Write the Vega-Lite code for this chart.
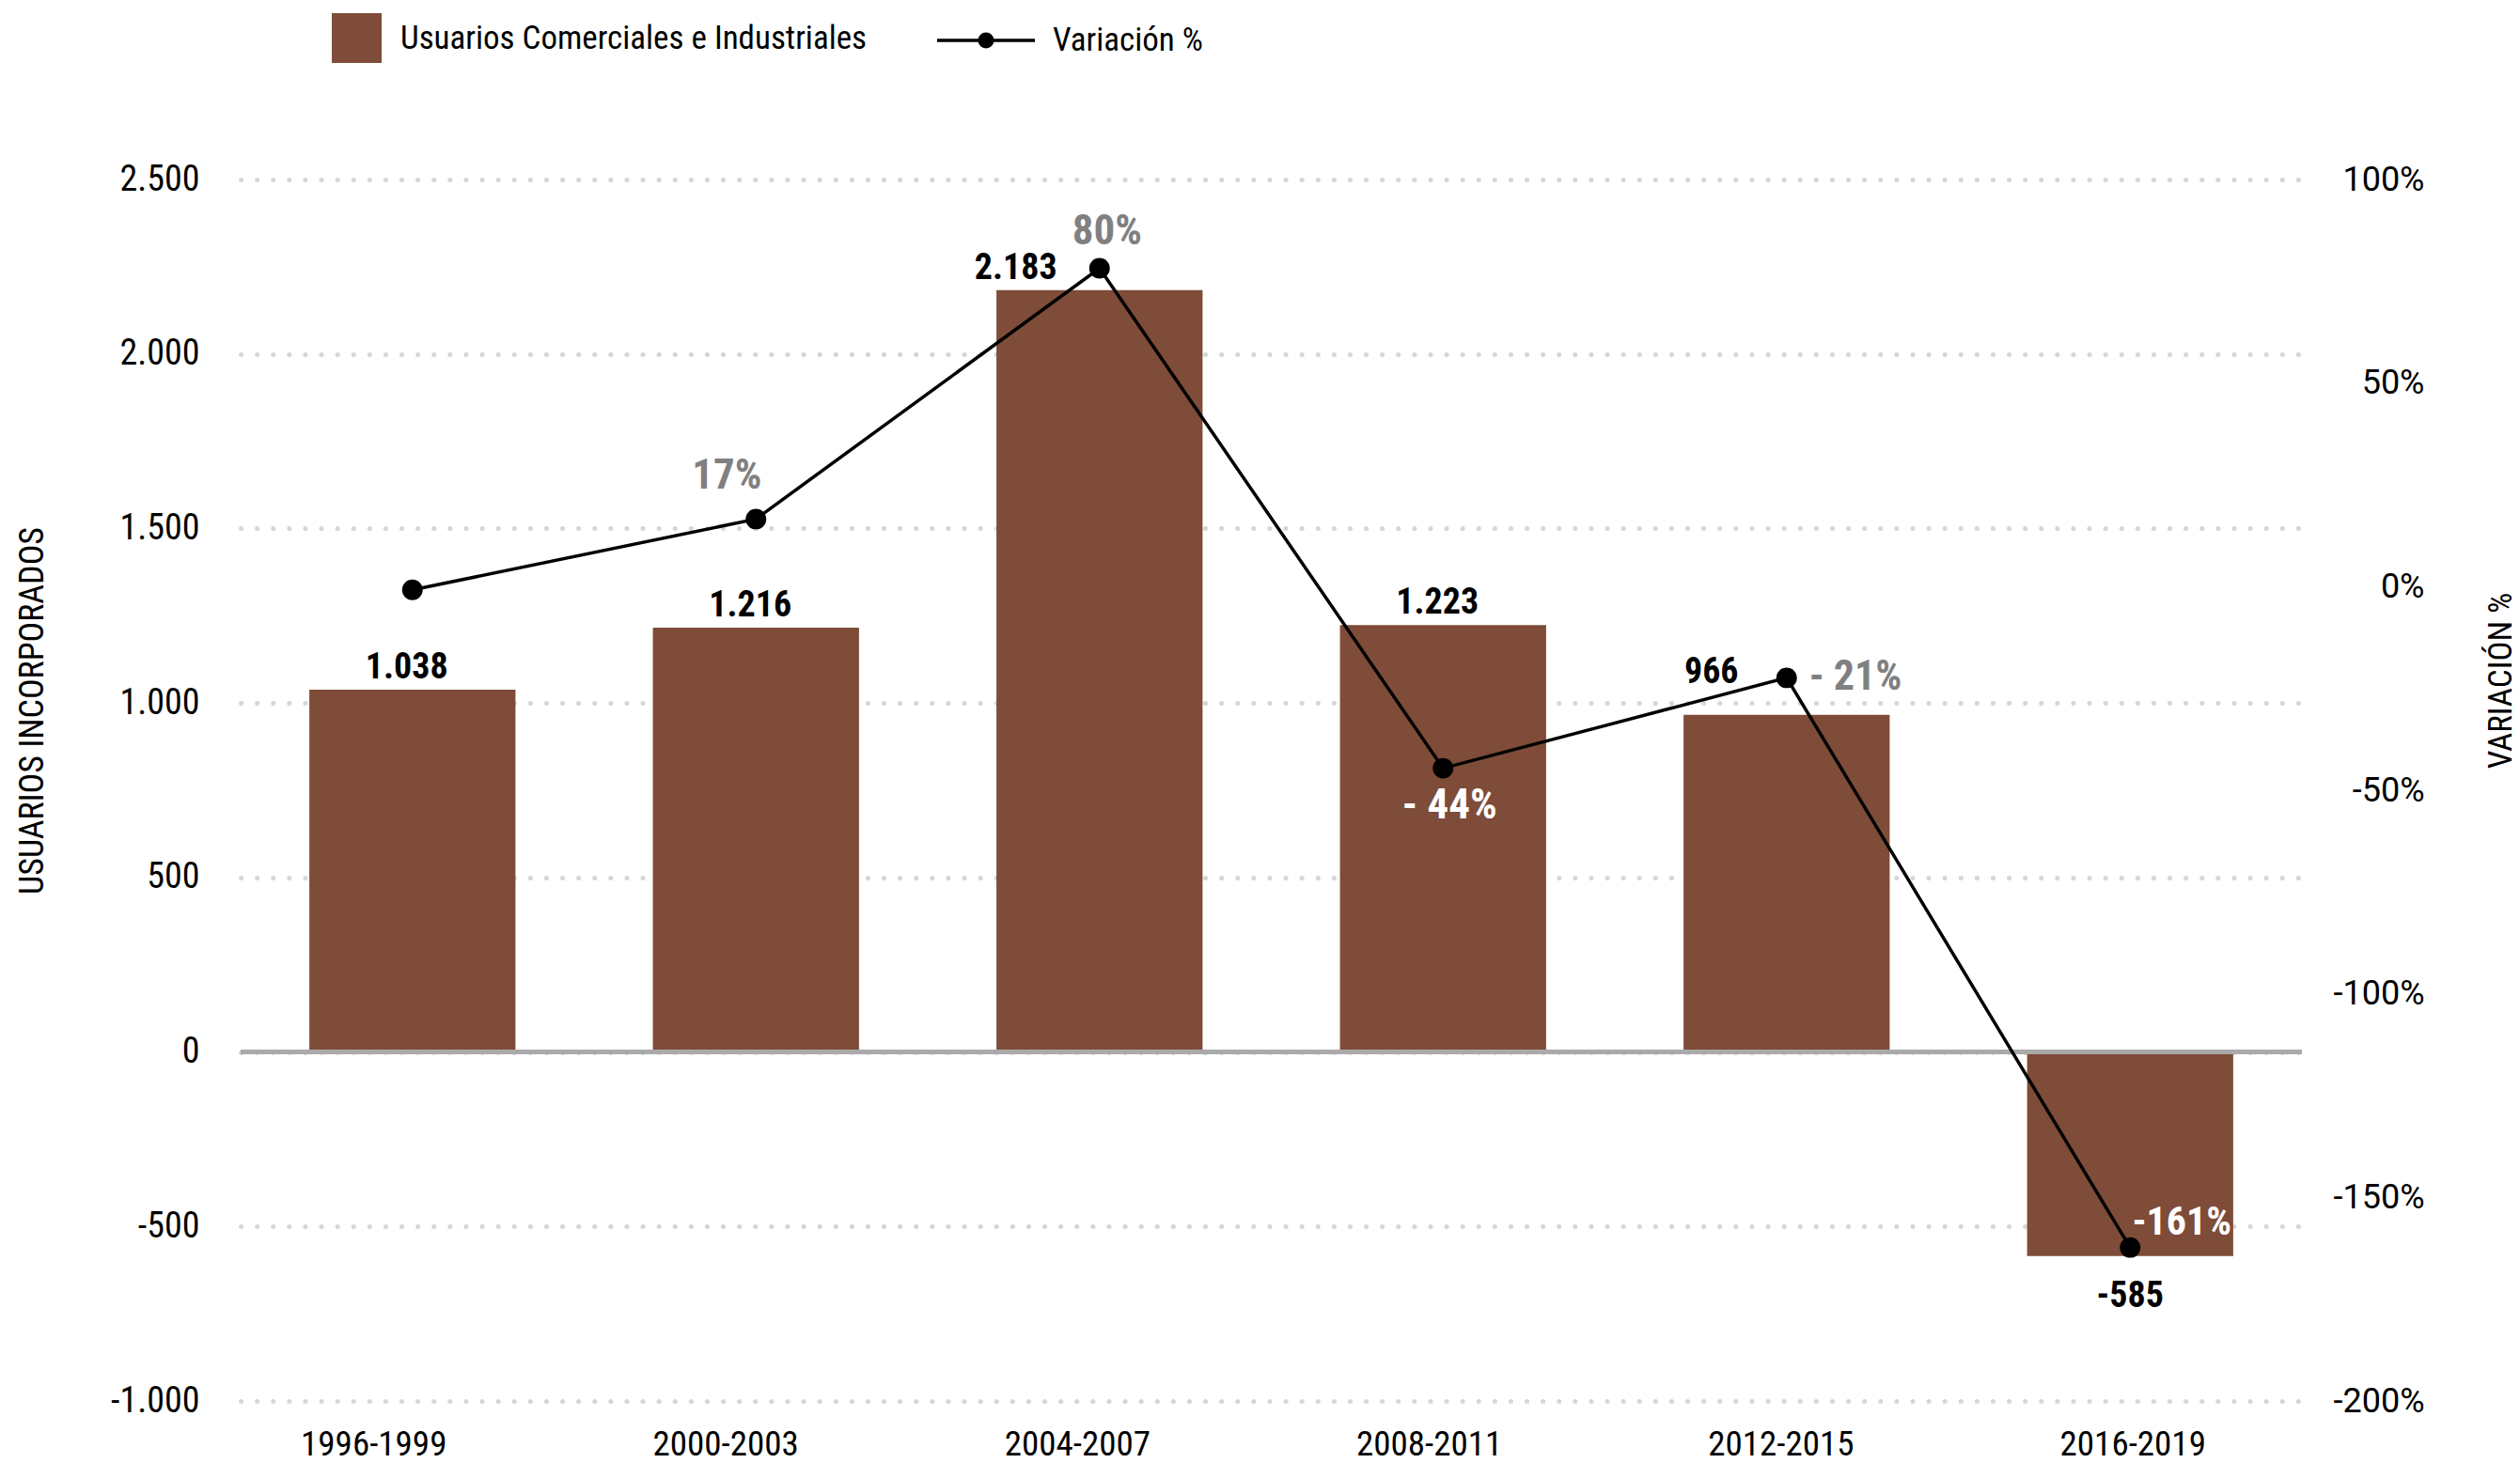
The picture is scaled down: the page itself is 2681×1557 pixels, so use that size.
{
  "$schema": "https://vega.github.io/schema/vega-lite/v6.json",
  "width": 2193,
  "height": 1300,
  "autosize": "none",
  "padding": {"left": 256, "top": 191, "right": 232, "bottom": 66},
  "background": "white",
  "config": {
    "view": {"stroke": null},
    "font": "Roboto Condensed, Liberation Sans Narrow, Arial Narrow, DejaVu Sans Condensed, sans-serif",
    "scale": {"bandPaddingInner": 0.4, "bandPaddingOuter": 0.2},
    "axisX": {
      "domain": false, "ticks": false, "grid": false, "title": null, "labelAngle": 0,
      "labelFontSize": 37, "labelColor": "#000000", "labelBaseline": "middle", "labelPadding": 46,
      "labelFont": "Roboto Condensed, Liberation Sans Narrow, Arial Narrow, DejaVu Sans Condensed, sans-serif"
    }
  },
  "data": {"values": [
    {"periodo": "1996-1999", "usuarios": 1038, "variacion": -0.8, "lab_u": "1.038", "lab_v": ""},
    {"periodo": "2000-2003", "usuarios": 1216, "variacion": 16.6, "lab_u": "1.216", "lab_v": "17%"},
    {"periodo": "2004-2007", "usuarios": 2183, "variacion": 78.2, "lab_u": "2.183", "lab_v": "80%"},
    {"periodo": "2008-2011", "usuarios": 1223, "variacion": -44.6, "lab_u": "1.223", "lab_v": "- 44%"},
    {"periodo": "2012-2015", "usuarios": 966, "variacion": -22.4, "lab_u": "966", "lab_v": "- 21%"},
    {"periodo": "2016-2019", "usuarios": -585, "variacion": -162.3, "lab_u": "-585", "lab_v": "-161%"}
  ]},
  "layer": [
    {
      "layer": [
        {
          "mark": {"type": "bar"},
          "encoding": {
            "x": {
              "field": "periodo", "type": "nominal", "sort": null,
              "axis": {
                "encoding": {"labels": {"dx": {"value": {"expr": "-41 + 44 * datum.index"}}}}
              }
            },
            "y": {
              "field": "usuarios", "type": "quantitative",
              "scale": {"domain": [-1000, 2500], "nice": false, "zero": false},
              "axis": {
                "orient": "left",
                "values": [-1000, -500, 0, 500, 1000, 1500, 2000, 2500],
                "labelExpr": "(datum.value < 0 ? '-' : '') + replace(format(abs(datum.value), ','), ',', '.')",
                "domain": false, "ticks": false,
                "grid": true, "gridColor": "#d6d6d6", "gridDash": [0.1, 17], "gridCap": "round", "gridWidth": 5,
                "labelFontSize": 38, "labelColor": "#000000", "labelPadding": 44,
                "title": "USUARIOS INCORPORADOS", "titleFontSize": 36, "titleFontWeight": "normal", "titleColor": "#000000",
                "titleAngle": 270, "titleX": -222, "titleY": 565, "titleAlign": "center", "titleBaseline": "middle"
              }
            },
            "fill": {
              "datum": "Usuarios Comerciales e Industriales",
              "scale": {"range": ["#7e4c38"]},
              "legend": {
                "orient": "none", "legendX": 97, "legendY": -177, "title": null, "padding": 0,
                "symbolType": "square", "symbolSize": 2809, "symbolStrokeWidth": 0,
                "labelFontSize": 35, "labelColor": "#000000", "labelOffset": 20, "labelLimit": 0
              }
            }
          }
        },
        {
          "mark": {"type": "rule", "color": "#aaaaaa", "strokeWidth": 5},
          "encoding": {"y": {"datum": 0, "type": "quantitative"}}
        },
        {
          "transform": [{"filter": {"field": "periodo", "oneOf": ["1996-1999", "2000-2003", "2008-2011"]}}],
          "mark": {"type": "text", "fontWeight": "bold", "fontSize": 38, "color": "#000000", "baseline": "middle", "dx": -6, "dy": -23},
          "encoding": {
            "x": {"field": "periodo", "type": "nominal", "sort": null},
            "y": {"field": "usuarios", "type": "quantitative"},
            "text": {"field": "lab_u"}
          }
        },
        {
          "transform": [{"filter": {"field": "periodo", "equal": "2004-2007"}}],
          "mark": {"type": "text", "fontWeight": "bold", "fontSize": 38, "color": "#000000", "baseline": "middle", "dx": -89, "dy": -23},
          "encoding": {
            "x": {"field": "periodo", "type": "nominal", "sort": null},
            "y": {"field": "usuarios", "type": "quantitative"},
            "text": {"field": "lab_u"}
          }
        },
        {
          "transform": [{"filter": {"field": "periodo", "equal": "2012-2015"}}],
          "mark": {"type": "text", "fontWeight": "bold", "fontSize": 38, "color": "#000000", "baseline": "middle", "dx": -80, "dy": -45},
          "encoding": {
            "x": {"field": "periodo", "type": "nominal", "sort": null},
            "y": {"field": "usuarios", "type": "quantitative"},
            "text": {"field": "lab_u"}
          }
        },
        {
          "transform": [{"filter": {"field": "periodo", "equal": "2016-2019"}}],
          "mark": {"type": "text", "fontWeight": "bold", "fontSize": 38, "color": "#000000", "baseline": "middle", "dy": 43},
          "encoding": {
            "x": {"field": "periodo", "type": "nominal", "sort": null},
            "y": {"field": "usuarios", "type": "quantitative"},
            "text": {"field": "lab_u"}
          }
        }
      ]
    },
    {
      "layer": [
        {
          "mark": {"type": "line", "strokeWidth": 3.5},
          "encoding": {
            "x": {"field": "periodo", "type": "nominal", "sort": null},
            "y": {
              "field": "variacion", "type": "quantitative",
              "scale": {"domain": [-200, 100], "nice": false, "zero": false},
              "axis": {
                "orient": "right",
                "values": [-200, -150, -100, -50, 0, 50, 100],
                "labelExpr": "datum.value + '%'",
                "domain": false, "ticks": false, "grid": false,
                "labelFont": "Roboto", "labelFontSize": 36, "labelColor": "#000000",
                "labelAlign": "right", "labelPadding": 130,
                "title": "VARIACIÓN %", "titleFontSize": 35, "titleFontWeight": "normal", "titleColor": "#000000",
                "titleAngle": 270, "titleX": 211, "titleY": 533, "titleAlign": "center", "titleBaseline": "middle"
              }
            },
            "stroke": {
              "datum": "Variación %",
              "scale": {"range": ["#000000"]},
              "legend": {
                "orient": "none", "legendX": 739, "legendY": -202, "title": null, "padding": 0,
                "symbolType": "M-1,0L1,0M0.13,0A0.13,0.13,0,1,1,-0.13,0A0.13,0.13,0,1,1,0.13,0Z",
                "symbolSize": 10816, "symbolStrokeWidth": 3.5, "symbolFillColor": "#000000", "symbolStrokeColor": "#000000",
                "labelFontSize": 35, "labelColor": "#000000", "labelOffset": 17, "labelLimit": 0
              }
            }
          }
        },
        {
          "mark": {"type": "point", "filled": true, "size": 480, "color": "#000000", "opacity": 1},
          "encoding": {
            "x": {"field": "periodo", "type": "nominal", "sort": null},
            "y": {"field": "variacion", "type": "quantitative"}
          }
        },
        {
          "transform": [{"filter": {"field": "periodo", "equal": "2000-2003"}}],
          "mark": {"type": "text", "fontWeight": "bold", "fontSize": 45, "color": "#808080", "baseline": "middle", "dx": -31, "dy": -46},
          "encoding": {
            "x": {"field": "periodo", "type": "nominal", "sort": null},
            "y": {"field": "variacion", "type": "quantitative"},
            "text": {"field": "lab_v"}
          }
        },
        {
          "transform": [{"filter": {"field": "periodo", "equal": "2004-2007"}}],
          "mark": {"type": "text", "fontWeight": "bold", "fontSize": 45, "color": "#808080", "baseline": "middle", "dx": 8, "dy": -39},
          "encoding": {
            "x": {"field": "periodo", "type": "nominal", "sort": null},
            "y": {"field": "variacion", "type": "quantitative"},
            "text": {"field": "lab_v"}
          }
        },
        {
          "transform": [{"filter": {"field": "periodo", "equal": "2012-2015"}}],
          "mark": {"type": "text", "fontWeight": "bold", "fontSize": 44, "color": "#808080", "baseline": "middle", "align": "left", "dx": 24, "dy": 0},
          "encoding": {
            "x": {"field": "periodo", "type": "nominal", "sort": null},
            "y": {"field": "variacion", "type": "quantitative"},
            "text": {"field": "lab_v"}
          }
        },
        {
          "transform": [{"filter": {"field": "periodo", "equal": "2008-2011"}}],
          "mark": {"type": "text", "fontWeight": "bold", "fontSize": 45, "color": "#ffffff", "baseline": "middle", "dx": 7, "dy": 39},
          "encoding": {
            "x": {"field": "periodo", "type": "nominal", "sort": null},
            "y": {"field": "variacion", "type": "quantitative"},
            "text": {"field": "lab_v"}
          }
        },
        {
          "transform": [{"filter": {"field": "periodo", "equal": "2016-2019"}}],
          "mark": {"type": "text", "fontWeight": "bold", "fontSize": 42, "color": "#ffffff", "baseline": "middle", "dx": 55, "dy": -27},
          "encoding": {
            "x": {"field": "periodo", "type": "nominal", "sort": null},
            "y": {"field": "variacion", "type": "quantitative"},
            "text": {"field": "lab_v"}
          }
        }
      ]
    }
  ],
  "resolve": {"scale": {"y": "independent"}}
}
